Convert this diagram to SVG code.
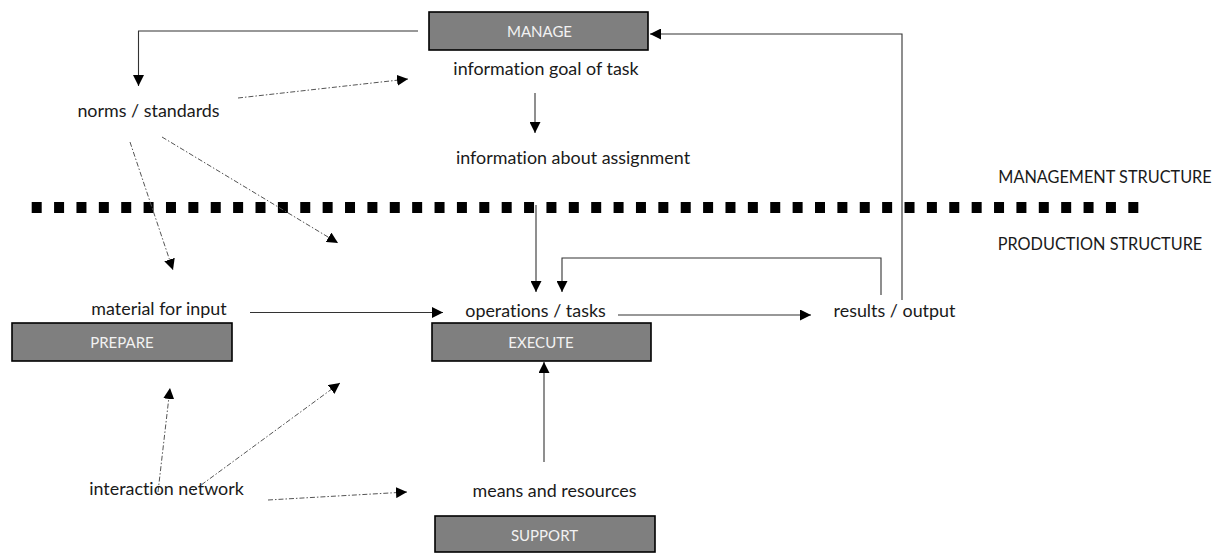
<svg xmlns="http://www.w3.org/2000/svg" width="1222" height="553" viewBox="0 0 1222 553">
  <style>
    text { font-variant-ligatures: none; font-family: Lato, "Open Sans", "Liberation Sans", sans-serif; }
    .lbl { font-size: 17.9px; fill: #1a1a1a; text-anchor: middle; }
    .caps { font-size: 16.3px; fill: #1a1a1a; text-anchor: middle; }
    .box rect { fill: #7f7f7f; stroke: #000; stroke-width: 1.6; }
    .box text { font-size: 15px; fill: #f2f2f2; text-anchor: middle; }
    .solid { fill: none; stroke: #333; stroke-width: 1.1; }
    .dashdot { fill: none; stroke: #555; stroke-width: 1; stroke-dasharray: 5 2 1.5 2; }
    .divider { stroke: #000; stroke-width: 11; stroke-dasharray: 10 12.38; }
  </style>
  <defs>
    <marker id="arrow" viewBox="0 0 10 10" refX="10" refY="5" markerWidth="11" markerHeight="11" markerUnits="userSpaceOnUse" orient="auto">
      <path d="M0,0 L10,5 L0,10 Z" fill="#000"/>
    </marker>
  </defs>
  <rect width="1222" height="553" fill="#fff"/>

  <!-- boundary between management and production -->
  <g id="divider">
    <line class="divider" x1="31.7" y1="207.5" x2="1139" y2="207.5"/>
    <text class="caps" x="1105" y="183">MANAGEMENT STRUCTURE</text>
    <text class="caps" x="1100" y="250">PRODUCTION STRUCTURE</text>
  </g>

  <g id="connectors">
    <!-- MANAGE to norms -->
    <polyline class="solid" points="418,31 138.5,31 138.5,86" marker-end="url(#arrow)"/>
    <!-- goal to assignment -->
    <line class="solid" x1="535" y1="93" x2="535" y2="133" marker-end="url(#arrow)"/>
    <!-- assignment to operations -->
    <line class="solid" x1="536" y1="205" x2="536" y2="292" marker-end="url(#arrow)"/>
    <!-- feedback loop from results -->
    <polyline class="solid" points="881,295 881,258 562,258 562,292" marker-end="url(#arrow)"/>
    <!-- results back to MANAGE -->
    <polyline class="solid" points="902,300 902,34 650,34" marker-end="url(#arrow)"/>
    <!-- material to operations -->
    <line class="solid" x1="250" y1="312.5" x2="443" y2="312.5" marker-end="url(#arrow)"/>
    <!-- operations to results -->
    <line class="solid" x1="618" y1="315" x2="811" y2="315" marker-end="url(#arrow)"/>
    <!-- means to EXECUTE -->
    <line class="solid" x1="544" y1="462" x2="544" y2="362" marker-end="url(#arrow)"/>

    <!-- dash-dot influences -->
    <line class="dashdot" x1="238" y1="98" x2="408" y2="79" marker-end="url(#arrow)"/>
    <line class="dashdot" x1="130" y1="142" x2="173" y2="270" marker-end="url(#arrow)"/>
    <line class="dashdot" x1="162" y1="137" x2="338" y2="243" marker-end="url(#arrow)"/>
    <line class="dashdot" x1="158" y1="492" x2="170" y2="388" marker-end="url(#arrow)"/>
    <line class="dashdot" x1="193" y1="491" x2="340" y2="383" marker-end="url(#arrow)"/>
    <line class="dashdot" x1="268" y1="500" x2="407" y2="492" marker-end="url(#arrow)"/>
  </g>

  <g id="manage" class="box">
    <rect x="429" y="12" width="219" height="38"/>
    <text x="539.5" y="36.5">MANAGE</text>
  </g>
  <g id="prepare" class="box">
    <rect x="12" y="323" width="220" height="38"/>
    <text x="122" y="347.5">PREPARE</text>
  </g>
  <g id="execute" class="box">
    <rect x="432" y="323" width="219" height="38"/>
    <text x="541" y="347.5">EXECUTE</text>
  </g>
  <g id="support" class="box">
    <rect x="435" y="516" width="220" height="36"/>
    <text x="544.5" y="541">SUPPORT</text>
  </g>

  <g id="goal"><text class="lbl" x="546" y="75">information goal of task</text></g>
  <g id="assignment"><text class="lbl" x="573" y="164">information about assignment</text></g>
  <g id="norms"><text class="lbl" x="148.5" y="117">norms / standards</text></g>
  <g id="material"><text class="lbl" x="159" y="315">material for input</text></g>
  <g id="operations"><text class="lbl" x="535.5" y="317">operations / tasks</text></g>
  <g id="results"><text class="lbl" x="894.5" y="317">results / output</text></g>
  <g id="means"><text class="lbl" x="554.5" y="497">means and resources</text></g>
  <g id="network"><text class="lbl" x="166.5" y="495">interaction network</text></g>
</svg>
